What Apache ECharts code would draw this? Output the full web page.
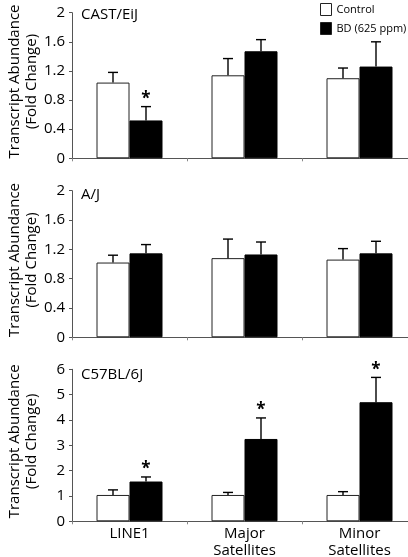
<!DOCTYPE html>
<html>
<head>
<meta charset="utf-8">
<script src="https://cdn.jsdelivr.net/npm/echarts@6/dist/echarts.min.js"></script>
<style>html,body{margin:0;padding:0;background:#fff;}#c{width:408px;height:557px;}</style>
</head>
<body>
<div id="c"></div>
<script>
// ---- data ----
const categories = ['LINE1', 'Major\nSatellites', 'Minor\nSatellites'];
const panelTitles = ['CAST/EiJ', 'A/J', 'C57BL/6J'];
const seriesNames = ['Control', 'BD (625 ppm)'];

const castControl = [1.04, 1.14, 1.10];
const castControlErr = [0.14, 0.23, 0.14];
const castBD = [0.52, 1.47, 1.26];
const castBDErr = [0.19, 0.16, 0.34];
const castBDSig = [1, 0, 0];

const ajControl = [1.02, 1.08, 1.06];
const ajControlErr = [0.10, 0.26, 0.15];
const ajBD = [1.145, 1.13, 1.145];
const ajBDErr = [0.12, 0.17, 0.165];
const ajBDSig = [0, 0, 0];

const c57Control = [1.04, 1.04, 1.04];
const c57ControlErr = [0.20, 0.10, 0.13];
const c57BD = [1.57, 3.25, 4.70];
const c57BDErr = [0.18, 0.83, 0.98];
const c57BDSig = [1, 1, 1];

const yMaxes = [2, 2, 6];
const yIntervals = [0.4, 0.4, 1];

// ---- chart ----
const FONT = '"Open Sans", "Noto Sans", sans-serif';
const BAR_W = 33;
const grids = [
  { left: 72, right: -9, top: 12.7, height: 145.6, outerBoundsMode: 'none', containLabel: false },
  { left: 72, right: -9, top: 190.7, height: 146.6, outerBoundsMode: 'none', containLabel: false },
  { left: 72, right: -9, top: 369.3, height: 152, outerBoundsMode: 'none', containLabel: false }
];
const titleTops = [7, 187, 367];
const panels = [
  { c: castControl, ce: castControlErr, b: castBD, be: castBDErr, s: castBDSig },
  { c: ajControl, ce: ajControlErr, b: ajBD, be: ajBDErr, s: ajBDSig },
  { c: c57Control, ce: c57ControlErr, b: c57BD, be: c57BDErr, s: c57BDSig }
];

function errRender(offset) {
  return function (params, api) {
    const x = api.value(0), v = api.value(1), e = api.value(2), s = api.value(3);
    const p0 = api.coord([x, v]);
    const p1 = api.coord([x, v + e]);
    const cx = p0[0] + offset;
    const style = { stroke: '#000', lineWidth: 1.4 };
    const children = [
      { type: 'line', shape: { x1: cx, y1: p0[1], x2: cx, y2: p1[1] }, style: style },
      { type: 'line', shape: { x1: cx - 5, y1: p1[1], x2: cx + 5, y2: p1[1] }, style: style }
    ];
    if (s) {
      children.push({ type: 'text', style: { text: '*', x: cx, y: p1[1] + 1, align: 'center', verticalAlign: 'bottom', font: 'bold 17px ' + FONT, fill: '#000' } });
    }
    return { type: 'group', children: children };
  };
}

const xAxes = [], yAxes = [], series = [], titles = [];
panels.forEach(function (p, i) {
  titles.push({ text: panelTitles[i], left: 81, top: titleTops[i], padding: 0,
    textStyle: { fontFamily: FONT, fontSize: 15, fontWeight: 'normal', color: '#000' } });
  xAxes.push({
    type: 'category', gridIndex: i, data: categories,
    axisLine: { lineStyle: { color: '#555', width: 1 } },
    axisTick: { show: true, length: 3, lineStyle: { color: '#888' } },
    axisLabel: { show: i === 2, fontFamily: FONT, fontSize: 15, color: '#000', lineHeight: 17, margin: 4 }
  });
  yAxes.push({
    type: 'value', gridIndex: i, min: 0, max: yMaxes[i], interval: yIntervals[i],
    name: 'Transcript Abundance\n(Fold Change)', nameLocation: 'middle', nameGap: 32,
    nameMoveOverlap: false,
    nameTextStyle: { fontFamily: FONT, fontSize: 15, color: '#000', lineHeight: 17, padding: [0, 0, 0, 8] },
    axisLine: { show: true, lineStyle: { color: '#555', width: 1 } },
    axisTick: { show: true, length: 3, lineStyle: { color: '#555' } },
    splitLine: { show: false },
    axisLabel: { fontFamily: FONT, fontSize: 15, color: '#000', margin: 7 }
  });
  series.push({
    type: 'bar', name: seriesNames[0], xAxisIndex: i, yAxisIndex: i,
    data: p.c, barWidth: BAR_W, barGap: '0%',
    itemStyle: { color: '#fff', borderColor: '#222', borderWidth: 1 }
  });
  series.push({
    type: 'bar', name: seriesNames[1], xAxisIndex: i, yAxisIndex: i,
    data: p.b, barWidth: BAR_W, barGap: '0%',
    itemStyle: { color: '#000', borderColor: '#000', borderWidth: 1 }
  });
  series.push({
    type: 'custom', xAxisIndex: i, yAxisIndex: i, renderItem: errRender(-BAR_W / 2),
    data: p.c.map(function (v, k) { return [k, v, p.ce[k], 0]; }), z: 5, silent: true
  });
  series.push({
    type: 'custom', xAxisIndex: i, yAxisIndex: i, renderItem: errRender(BAR_W / 2),
    data: p.b.map(function (v, k) { return [k, v, p.be[k], p.s[k]]; }), z: 5, silent: true
  });
});

const chart = echarts.init(document.getElementById('c'), null, { renderer: 'canvas' });
chart.setOption({
  backgroundColor: '#fff',
  animation: false,
  title: titles,
  legend: {
    data: seriesNames, orient: 'vertical', left: 320, top: 3, padding: 0,
    icon: 'rect', itemWidth: 11, itemHeight: 12, itemGap: 6,
    itemStyle: { borderWidth: 1, borderColor: '#222' },
    textStyle: { fontFamily: FONT, fontSize: 11, color: '#000', lineHeight: 12 }
  },
  grid: grids,
  xAxis: xAxes,
  yAxis: yAxes,
  series: series
});
</script>
</body>
</html>
